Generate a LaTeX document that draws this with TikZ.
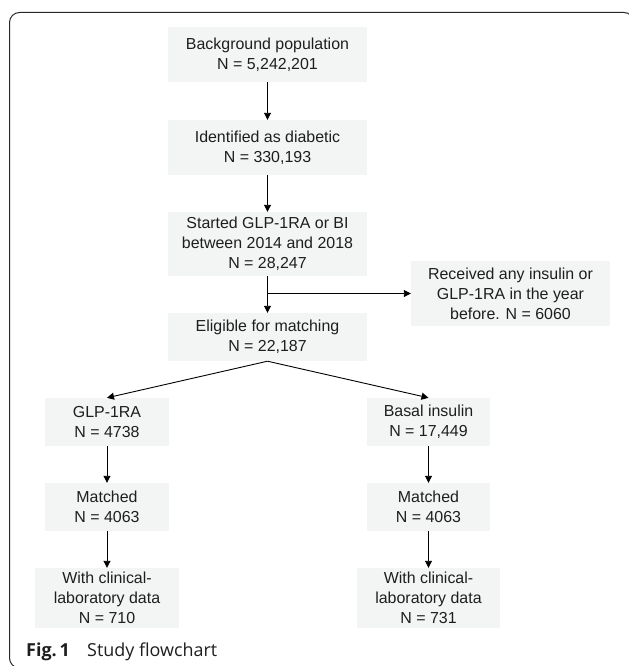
\documentclass[tikz,border=0pt]{standalone}
\usepackage{fontspec}
\usetikzlibrary{arrows.meta}
\newfontfamily\boxfont{Liberation Sans}
\newfontfamily\capfont{Open Sans}
\definecolor{boxfill}{RGB}{243,244,244}
\definecolor{txt}{RGB}{30,30,30}
\definecolor{framec}{RGB}{40,40,40}
\tikzset{
  fbox/.style={rectangle, fill=boxfill, draw=none, inner sep=0pt, align=center,
    text=txt, font=\boxfont\fontsize{16}{20}\selectfont},
  arr/.style={-{Triangle[length=7bp,width=7bp]}, line width=0.9bp, draw=black},
}
\begin{document}
\begin{tikzpicture}[x=1bp,y=-1bp]
\useasboundingbox (0,0) rectangle (629,666);
\begin{scope}
\clip (0,0) rectangle (629,666);
\draw[framec, line width=1bp, rounded corners=10bp] (9.5,12.5) rectangle (634,668);
\end{scope}

\node[fbox, minimum width=199bp, minimum height=55bp] (bg) at (267.5,54.5) {Background population\\N = 5,242,201};
\node[fbox, minimum width=199bp, minimum height=55bp] (id) at (267.5,147.5) {Identified as diabetic\\N = 330,193};
\node[fbox, minimum width=199bp, minimum height=64bp] (st) at (267.5,244) {Started GLP-1RA or BI\\between 2014 and 2018\\N = 28,247};
\node[fbox, minimum width=199bp, minimum height=48bp] (el) at (267.5,337) {Eligible for matching\\N = 22,187};
\node[fbox, minimum width=199bp, minimum height=65bp] (rc) at (510.5,293.5) {Received any insulin or\\GLP-1RA in the year\\before. N = 6060};

\node[fbox, minimum width=124bp, minimum height=48bp] (glp) at (107,422) {GLP-1RA\\N = 4738};
\node[fbox, minimum width=123bp, minimum height=48bp] (bas) at (428.5,422) {Basal insulin\\N = 17,449};
\node[fbox, minimum width=124bp, minimum height=48bp] (ml) at (107,507) {Matched\\N = 4063};
\node[fbox, minimum width=123bp, minimum height=48bp] (mr) at (428.5,507) {Matched\\N = 4063};
\node[fbox, minimum width=143bp, minimum height=60bp] (wl) at (107,598) {With clinical-\\laboratory data\\N = 710};
\node[fbox, minimum width=143bp, minimum height=60bp] (wr) at (428.5,598) {With clinical-\\laboratory data\\N = 731};

\coordinate (br) at (267.5,293.5);

\draw[arr] (bg) -- (id);
\draw[arr] (id) -- (st);
\draw[arr] (st) -- (el);
\draw[arr] (br) -- (rc.west);
\draw[arr] (el.south) -- (glp.north);
\draw[arr] (el.south) -- (bas.north);
\draw[arr] (glp) -- (ml);
\draw[arr] (ml) -- (wl);
\draw[arr] (bas) -- (mr);
\draw[arr] (mr) -- (wr);

\node[anchor=base west, inner sep=0pt, text=txt, font=\capfont\bfseries\fontsize{18}{20}\selectfont] (figl) at (26,656) {Fig.\,1};
\node[anchor=base west, inner sep=0pt, text=txt, font=\capfont\fontsize{18}{20}\selectfont] (figt) at (87,656) {Study flowchart};
\end{tikzpicture}
\end{document}
